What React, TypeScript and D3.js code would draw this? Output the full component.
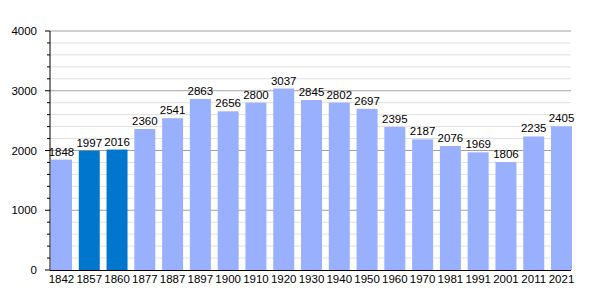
import React from "react";
import * as d3 from "d3";

const years = ["1842","1857","1860","1877","1887","1897","1900","1910","1920","1930","1940","1950","1960","1970","1981","1991","2001","2011","2021"];
const population = [1848,1997,2016,2360,2541,2863,2656,2800,3037,2845,2802,2697,2395,2187,2076,1969,1806,2235,2405];
const highlighted = ["1857","1860"];
const majorTicks = [0,1000,2000,3000,4000];
const minorTicks = d3.range(0, 4001, 200);

export default function App() {
  const W = 600, H = 300;
  const left = 50, right = 571, top = 31, bottom = 270;
  const x = d3.scaleBand().domain(years).range([51, 572]).paddingInner(0.245).paddingOuter(0);
  const y = d3.scaleLinear().domain([0, 4000]).range([bottom, top]);
  const font = "Liberation Sans, Arial, sans-serif";
  return (
    <svg width={W} height={H} style={{ position: "absolute", left: 0, top: 0 }} fontFamily={font}>
      <rect width={W} height={H} fill="#fff" />
      {minorTicks.filter(t => t % 1000 !== 0).map(t => (
        <line key={"m"+t} x1={left} x2={right} y1={y(t)} y2={y(t)} stroke="#e0e0e0" strokeWidth={1} />
      ))}
      {majorTicks.filter(t => t > 0).map(t => (
        <line key={"M"+t} x1={left} x2={right} y1={y(t)} y2={y(t)} stroke="#a0a0a0" strokeWidth={1} />
      ))}
      {years.map((yr, i) => (
        <rect key={yr} x={x(yr)} y={y(population[i])} width={x.bandwidth()} height={bottom - y(population[i])}
          fill={highlighted.includes(yr) ? "#0077cc" : "#99b0ff"} />
      ))}
      {years.map((yr, i) => (
        <text key={"l"+yr} x={(x(yr) as number) + x.bandwidth() / 2} y={y(population[i]) - 4} fontSize={11.5} textAnchor="middle" fill="#000">{population[i]}</text>
      ))}
      {minorTicks.map(t => (
        <line key={"t"+t} x1={t % 1000 === 0 ? left - 5 : left - 3} x2={left} y1={y(t)} y2={y(t)} stroke="#000" />
      ))}
      <line x1={left} x2={left} y1={top} y2={bottom} stroke="#000" />
      <line x1={left} x2={right} y1={bottom + 0.5} y2={bottom + 0.5} stroke="#000" />
      {majorTicks.map(t => (
        <text key={"y"+t} x={37} y={y(t) + 4} fontSize={11.5} textAnchor="end" fill="#000">{t}</text>
      ))}
      {years.map(yr => (
        <text key={"x"+yr} x={(x(yr) as number) + x.bandwidth() / 2} y={283} fontSize={11.5} textAnchor="middle" fill="#000">{yr}</text>
      ))}
    </svg>
  );
}
